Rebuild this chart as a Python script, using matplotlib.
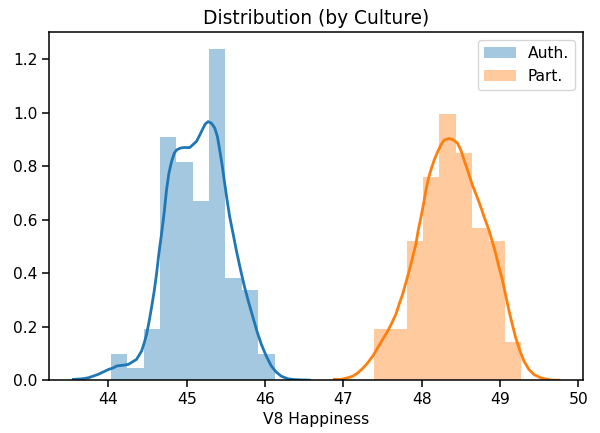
import numpy as np
import matplotlib
matplotlib.use("Agg")
import matplotlib.pyplot as plt

# histogram densities
auth_bin_start = 44.032
auth_bin_end = 46.121
auth_density = [0.097, 0.046, 0.19, 0.91, 0.815, 0.67, 1.24, 0.382, 0.336, 0.097]

part_bin_start = 47.387
part_bin_end = 49.273
part_density = [0.19, 0.19, 0.52, 0.76, 0.995, 0.85, 0.569, 0.52, 0.143]

# kde curves
auth_kde_x = [43.553, 43.659, 43.744, 43.871, 44.0, 44.062, 44.104, 44.190, 44.254,
              44.359, 44.423, 44.457, 44.487, 44.516, 44.550, 44.585, 44.614, 44.643,
              44.678, 44.712, 44.741, 44.771, 44.805, 44.839, 44.869, 44.911, 44.954,
              45.038, 45.124, 45.166, 45.209, 45.238, 45.273, 45.315, 45.357, 45.391,
              45.420, 45.451, 45.484, 45.515, 45.548, 45.591, 45.633, 45.684, 45.739,
              45.790, 45.846, 45.897, 45.952, 46.015, 46.079, 46.143, 46.206, 46.292,
              46.376, 46.567]
auth_kde_y = [0.003, 0.005, 0.009, 0.022, 0.040, 0.046, 0.053, 0.056, 0.059,
              0.078, 0.109, 0.140, 0.172, 0.215, 0.272, 0.335, 0.398, 0.472,
              0.548, 0.629, 0.711, 0.773, 0.817, 0.848, 0.861, 0.867, 0.870,
              0.870, 0.893, 0.917, 0.943, 0.959, 0.967, 0.961, 0.943, 0.911,
              0.861, 0.805, 0.736, 0.673, 0.611, 0.548, 0.485, 0.416, 0.347,
              0.291, 0.234, 0.182, 0.134, 0.090, 0.053, 0.030, 0.015, 0.005,
              0.002, 0.0]

part_kde_x = [46.885, 46.971, 47.056, 47.120, 47.183, 47.247, 47.311, 47.375, 47.438,
              47.502, 47.566, 47.620, 47.671, 47.713, 47.757, 47.799, 47.841, 47.884,
              47.926, 47.955, 47.990, 48.024, 48.054, 48.083, 48.117, 48.159, 48.203,
              48.245, 48.287, 48.350, 48.406, 48.457, 48.499, 48.541, 48.592, 48.648,
              48.703, 48.754, 48.805, 48.860, 48.903, 48.945, 48.987, 49.031, 49.073,
              49.115, 49.158, 49.200, 49.251, 49.306, 49.369, 49.433, 49.518, 49.604,
              49.667, 49.752]
part_kde_y = [0.003, 0.003, 0.009, 0.015, 0.027, 0.044, 0.065, 0.090, 0.121,
              0.153, 0.184, 0.215, 0.247, 0.285, 0.322, 0.366, 0.410, 0.460,
              0.510, 0.560, 0.609, 0.660, 0.711, 0.751, 0.786, 0.823, 0.854,
              0.880, 0.898, 0.904, 0.898, 0.886, 0.861, 0.823, 0.779, 0.729,
              0.688, 0.648, 0.604, 0.560, 0.516, 0.473, 0.422, 0.373, 0.316,
              0.259, 0.207, 0.159, 0.112, 0.071, 0.040, 0.021, 0.009, 0.003,
              0.0, 0.0]

labels = ["Auth.", "Part."]
colors = ["#1f77b4", "#ff7f0e"]

plt.rcParams["font.size"] = 11.2
plt.rcParams["axes.linewidth"] = 1.1
plt.rcParams["xtick.major.size"] = 4.8
plt.rcParams["ytick.major.size"] = 4.8
plt.rcParams["xtick.major.width"] = 1.1
plt.rcParams["ytick.major.width"] = 1.1

fig, ax = plt.subplots(figsize=(6, 4.33), dpi=100)
fig.subplots_adjust(left=0.082, right=0.972, top=0.926, bottom=0.122)

series = [
    (auth_bin_start, auth_bin_end, auth_density, auth_kde_x, auth_kde_y),
    (part_bin_start, part_bin_end, part_density, part_kde_x, part_kde_y),
]
for (start, end, dens, kx, ky), label, color in zip(series, labels, colors):
    edges = np.linspace(start, end, len(dens) + 1)
    ax.bar(edges[:-1], dens, width=np.diff(edges), align="edge",
           color=color, alpha=0.4, linewidth=0, label=label)
    ax.plot(kx, ky, color=color, lw=2, solid_joinstyle="round")

ax.set_title("Distribution (by Culture)")
ax.set_xlabel("V8 Happiness")
ax.legend(loc="upper right")

fig.savefig("out.png", dpi=100)
